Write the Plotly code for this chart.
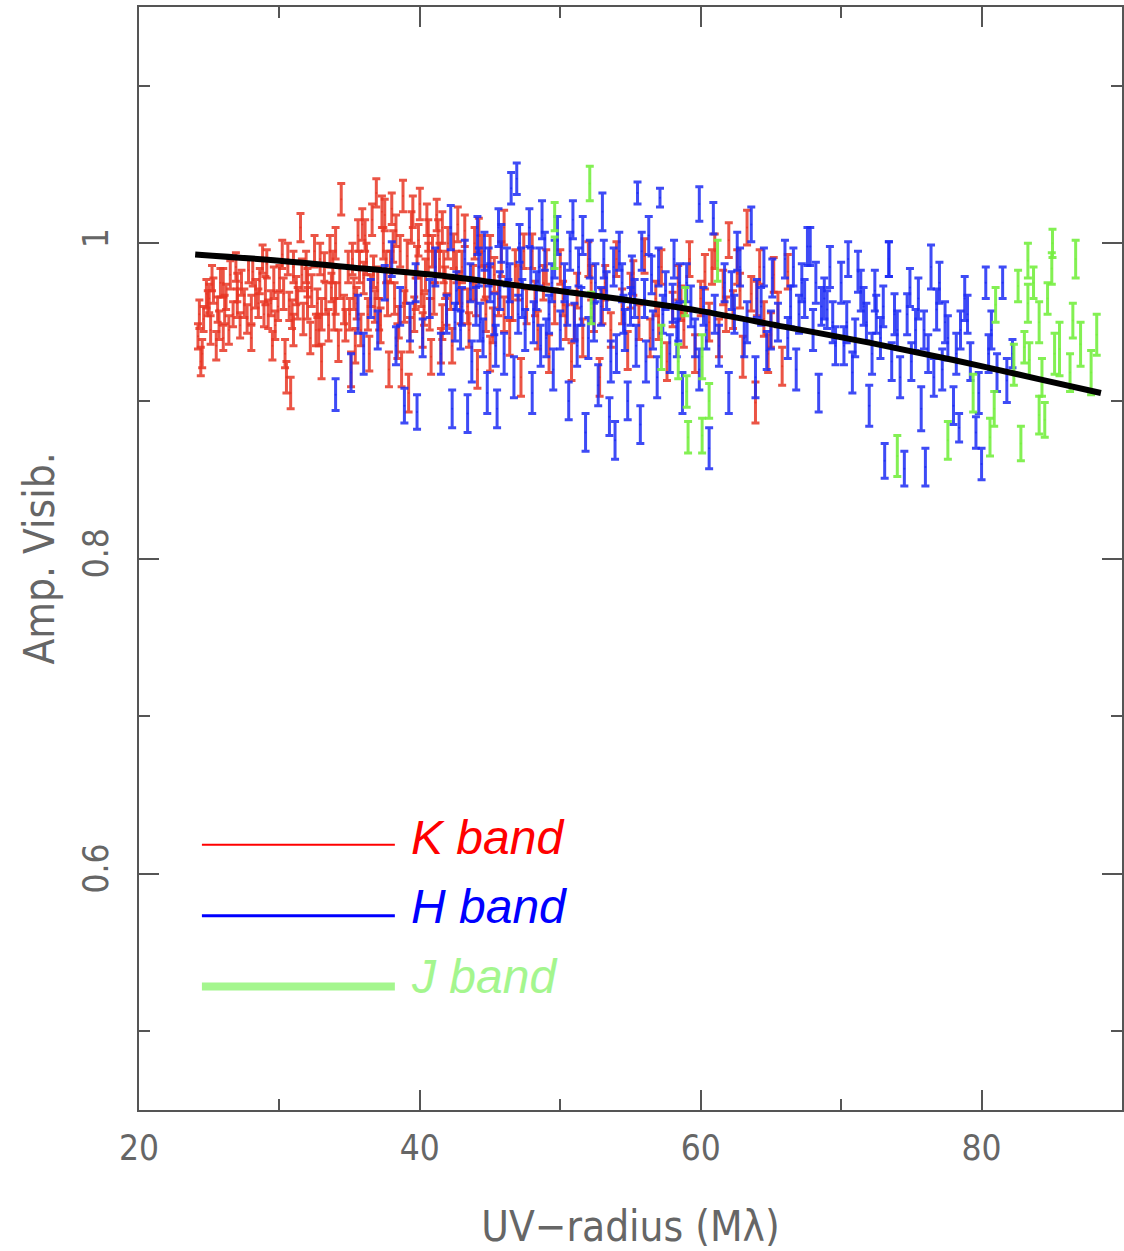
import plotly.graph_objects as go

# ---------------- data ----------------
# K band (red)
k_x = [24.2, 24.5, 24.6, 24.9, 25.1, 25.3, 25.6, 25.8, 26.0, 26.2,
       26.5, 26.7, 27.0, 27.2, 27.5, 27.8, 28.0, 28.3, 28.6, 28.9,
       29.1, 29.4, 29.7, 30.0, 30.2, 30.4, 30.5, 30.7, 31.0, 31.2,
       31.5, 31.7, 32.0, 32.2, 32.5, 32.7, 33.0, 33.2, 33.5, 33.7,
       34.0, 34.2, 34.4, 34.6, 34.9, 35.1, 35.3, 35.6, 35.8, 36.0,
       36.2, 36.4, 36.6, 36.8, 37.0, 37.2, 37.4, 37.6, 37.8, 38.0,
       38.2, 38.4, 38.6, 38.8, 39.0, 39.2, 39.4, 39.6, 39.8, 40.0,
       40.2, 40.4, 40.6, 40.8, 41.0, 41.2, 41.4, 41.6, 41.8, 42.0,
       42.3, 42.6, 42.9, 43.2, 43.5, 43.8, 44.1, 44.4, 44.7, 45.0,
       45.3, 45.6, 46.0, 46.4, 46.8, 47.2, 47.6, 48.0, 48.4, 48.8,
       49.2, 49.6, 50.0, 50.4, 50.8, 51.2, 51.6, 52.0, 52.4, 52.8,
       53.2, 53.6, 54.0, 54.4, 54.8, 55.2, 55.6, 56.0, 56.4, 56.8,
       57.2, 57.6, 58.0, 58.4, 58.8, 59.2, 59.6, 60.0, 60.3, 60.6,
       61.0, 61.3, 61.6, 62.0, 62.3, 62.6, 63.0, 63.3, 63.6, 63.9,
       64.2, 64.5, 64.8, 65.2, 65.5, 65.8, 66.2, 36.5, 37.1, 37.9,
       38.5, 39.1, 39.7, 40.3, 40.9, 41.5, 42.2, 35.0, 34.0, 33.0,
       32.0, 31.0, 29.0, 28.0, 27.0, 26.0, 25.0, 43.0, 44.0, 45.0,
       46.0, 47.0, 29.5, 30.8, 32.8, 35.4, 36.9, 38.7, 40.5, 41.7,
       24.3, 24.8, 25.2, 25.7, 26.1, 26.4, 26.9, 27.3, 27.7, 28.1,
       28.5, 28.8, 29.2, 29.6, 29.9, 30.3, 30.6, 30.9, 31.3, 31.6,
       31.9, 32.3, 32.6, 32.9, 33.3, 33.6, 33.9, 34.3, 34.7, 35.2,
       35.5, 35.9, 36.3, 36.7, 37.3, 37.7, 38.1, 38.9, 39.3, 39.9,
       40.1, 40.7, 41.1, 41.3, 41.9, 42.4, 42.8, 43.4, 43.9, 44.6,
       45.2, 45.8, 46.6, 47.4, 48.2, 49.0, 50.2, 51.0, 52.2, 53.0,
       55.0, 57.0, 58.6, 60.8, 61.8, 62.8, 64.0, 65.0, 24.4, 25.5,
       36.1, 37.5, 38.3, 39.5, 40.6, 41.6, 33.8, 35.7, 42.7, 44.2]
k_y = [0.941, 0.930, 0.952, 0.962, 0.945, 0.970, 0.958, 0.975, 0.940, 0.966,
       0.980, 0.955, 0.972, 0.948, 0.962, 0.983, 0.940, 0.968, 0.976, 0.955,
       0.987, 0.962, 0.948, 0.978, 0.993, 0.930, 0.915, 0.960, 0.985, 0.970,
       1.010, 0.952, 0.975, 0.940, 0.995, 0.962, 0.925, 0.985, 0.948, 0.972,
       1.000, 0.935, 1.028, 0.958, 0.985, 0.920, 0.968, 1.005, 0.945, 0.978,
       0.990, 0.930, 1.015, 0.960, 0.975, 0.948, 1.000, 0.985, 0.920, 1.022,
       0.965, 0.938, 0.995, 1.030, 0.972, 0.905, 1.010, 0.955, 0.988, 1.025,
       0.945, 0.980, 1.005, 0.928, 0.965, 1.018, 0.990, 0.950, 0.975, 1.000,
       0.935, 0.985, 0.960, 1.008, 0.945, 0.975, 0.920, 0.995, 0.955, 0.930,
       0.980, 0.965, 1.010, 0.940, 0.985, 0.915, 0.960, 0.995, 0.945, 0.975,
       0.930, 0.960, 0.985, 0.950, 0.925, 0.970, 0.940, 0.990, 0.955, 0.915,
       0.975, 0.945, 0.990, 0.960, 0.932, 0.978, 0.950, 0.992, 0.940, 0.965,
       0.985, 0.925, 0.958, 0.975, 0.945, 0.990, 0.930, 0.965, 0.982, 0.950,
       0.995, 0.940, 0.972, 1.002, 0.958, 0.985, 0.928, 1.010, 0.968, 0.899,
       0.985, 0.952, 0.930, 0.980, 0.958, 0.922, 0.982, 0.970, 0.955, 0.985,
       0.950, 0.992, 0.968, 0.958, 0.995, 0.935, 0.968, 0.955, 0.965, 0.955,
       0.962, 0.945, 0.970, 0.958, 0.962, 0.975, 0.965, 0.985, 0.965, 0.995,
       0.955, 0.975, 0.935, 0.905, 0.945, 0.935, 1.032, 0.920, 1.015, 0.985,
       0.955, 0.968, 0.978, 0.948, 0.958, 0.945, 0.985, 0.975, 0.952, 0.982,
       0.962, 0.990, 0.955, 0.975, 0.960, 0.968, 0.990, 0.955, 0.962, 0.980,
       0.985, 0.970, 0.945, 0.990, 0.965, 0.995, 0.955, 0.975, 0.948, 0.990,
       0.962, 1.012, 0.955, 0.982, 1.020, 0.965, 0.998, 0.960, 0.942, 1.002,
       0.970, 0.955, 0.985, 1.005, 0.958, 0.995, 0.972, 0.960, 1.000, 0.975,
       0.948, 0.990, 0.962, 0.995, 0.965, 0.985, 0.965, 0.950, 0.975, 0.960,
       0.970, 0.950, 0.962, 0.985, 0.955, 0.970, 0.965, 0.945, 0.925, 0.935,
       1.005, 1.018, 1.008, 1.020, 0.990, 1.010, 0.985, 0.985, 1.012, 1.005]
k_err = [0.008, 0.009, 0.008, 0.008, 0.009, 0.008, 0.008, 0.009, 0.008, 0.008,
         0.009, 0.008, 0.009, 0.008, 0.009, 0.008, 0.008, 0.009, 0.008, 0.008,
         0.009, 0.008, 0.009, 0.008, 0.009, 0.009, 0.010, 0.009, 0.010, 0.009,
         0.009, 0.010, 0.009, 0.010, 0.010, 0.009, 0.011, 0.009, 0.010, 0.009,
         0.010, 0.010, 0.010, 0.009, 0.010, 0.011, 0.010, 0.010, 0.010, 0.010,
         0.010, 0.011, 0.010, 0.010, 0.010, 0.011, 0.010, 0.010, 0.011, 0.010,
         0.010, 0.011, 0.010, 0.010, 0.010, 0.012, 0.010, 0.011, 0.010, 0.010,
         0.011, 0.010, 0.010, 0.011, 0.010, 0.010, 0.010, 0.011, 0.010, 0.010,
         0.011, 0.010, 0.011, 0.010, 0.011, 0.011, 0.012, 0.010, 0.011, 0.011,
         0.011, 0.011, 0.011, 0.011, 0.011, 0.012, 0.011, 0.011, 0.012, 0.011,
         0.012, 0.011, 0.011, 0.011, 0.012, 0.011, 0.012, 0.011, 0.011, 0.012,
         0.011, 0.011, 0.011, 0.011, 0.012, 0.011, 0.011, 0.011, 0.012, 0.011,
         0.011, 0.012, 0.011, 0.011, 0.011, 0.011, 0.012, 0.011, 0.011, 0.012,
         0.011, 0.012, 0.011, 0.011, 0.012, 0.011, 0.013, 0.011, 0.011, 0.013,
         0.011, 0.011, 0.012, 0.011, 0.011, 0.012, 0.011, 0.010, 0.010, 0.010,
         0.010, 0.010, 0.010, 0.010, 0.010, 0.011, 0.010, 0.010, 0.010, 0.010,
         0.010, 0.010, 0.009, 0.009, 0.009, 0.009, 0.009, 0.010, 0.011, 0.010,
         0.011, 0.011, 0.009, 0.010, 0.010, 0.011, 0.009, 0.011, 0.010, 0.010,
         0.009, 0.009, 0.008, 0.009, 0.009, 0.009, 0.009, 0.008, 0.009, 0.009,
         0.009, 0.009, 0.009, 0.010, 0.009, 0.010, 0.010, 0.009, 0.010, 0.010,
         0.010, 0.010, 0.010, 0.010, 0.010, 0.010, 0.010, 0.010, 0.010, 0.010,
         0.010, 0.010, 0.010, 0.010, 0.010, 0.011, 0.010, 0.010, 0.011, 0.010,
         0.010, 0.010, 0.010, 0.010, 0.010, 0.011, 0.010, 0.011, 0.010, 0.011,
         0.011, 0.011, 0.011, 0.011, 0.011, 0.011, 0.011, 0.011, 0.011, 0.011,
         0.011, 0.011, 0.011, 0.011, 0.011, 0.011, 0.011, 0.011, 0.009, 0.009,
         0.010, 0.010, 0.010, 0.010, 0.010, 0.010, 0.010, 0.010, 0.011, 0.011]

# H band (blue)
h_x = [34.0, 35.1, 35.6, 36.0, 36.5, 37.0, 37.5, 38.0, 38.3, 38.6,
       38.9, 39.3, 39.7, 39.8, 40.2, 40.7, 41.1, 41.5, 41.9, 42.2,
       42.3, 42.6, 42.9, 43.2, 43.4, 43.7, 44.0, 44.2, 44.5, 44.8,
       45.0, 45.3, 45.5, 45.8, 46.0, 46.3, 46.5, 46.7, 46.9, 47.2,
       47.5, 47.8, 48.0, 48.3, 48.6, 48.9, 49.2, 49.5, 49.8, 50.0,
       50.3, 50.6, 50.9, 51.2, 51.5, 51.8, 52.1, 52.4, 52.7, 53.0,
       53.3, 53.6, 53.9, 54.2, 54.5, 54.8, 55.1, 55.4, 55.5, 55.7,
       56.0, 56.3, 56.6, 56.9, 57.1, 57.5, 57.8, 58.1, 58.4, 58.7,
       59.0, 59.6, 59.9, 59.9, 60.2, 60.6, 60.9, 61.3, 61.7, 62.0,
       62.4, 62.8, 63.1, 63.6, 63.9, 64.3, 64.7, 65.1, 65.5, 66.0,
       66.4, 66.8, 67.2, 67.6, 68.0, 68.4, 68.8, 69.2, 69.6, 70.0,
       70.4, 70.8, 71.2, 71.6, 72.0, 72.4, 72.8, 73.1, 73.4, 73.8,
       74.2, 74.5, 74.9, 75.3, 75.7, 76.0, 76.4, 76.8, 77.2, 77.6,
       78.0, 78.4, 78.8, 79.2, 79.6, 80.0, 80.3, 80.7, 81.1, 81.5,
       81.8, 82.2, 43.0, 44.3, 45.7, 47.0, 48.5, 49.0, 51.0, 52.5,
       55.0, 58.0, 65.0, 67.0, 69.0, 71.0, 72.5, 74.0, 75.0, 77.0,
       78.5, 70.5, 67.8, 73.4, 76.2, 54.0, 56.5, 53.5, 64.0, 61.0,
       42.5, 43.6, 44.6, 45.4, 46.2, 47.3, 48.1, 49.4, 50.5, 51.3,
       52.0, 52.9, 53.8, 54.6, 55.3, 56.1, 57.3, 58.3, 59.3, 60.4,
       62.2, 63.3, 64.5, 66.2, 67.4, 68.2, 69.4, 70.2, 71.4, 72.2,
       73.0, 73.6, 74.7, 75.5, 76.6, 77.4, 78.2, 79.0, 79.8, 80.5,
       44.1, 44.9, 45.6, 46.4, 47.1, 47.9, 48.7, 49.6, 50.7, 51.6,
       53.1, 54.4, 55.8, 57.0, 58.5, 62.6, 66.6, 68.6, 71.8, 75.9]
h_y = [0.904, 0.918, 0.955, 0.930, 0.965, 0.945, 0.975, 0.990, 0.935, 0.960,
       0.897, 0.950, 0.975, 0.893, 0.940, 0.965, 0.985, 0.930, 0.955, 1.010,
       0.895, 0.970, 0.945, 0.990, 0.892, 0.925, 0.960, 0.985, 0.940, 0.905,
       0.975, 0.955, 0.895, 1.000, 0.930, 0.965, 1.035, 0.915, 1.041, 0.985,
       0.945, 1.010, 0.905, 0.970, 0.935, 0.995, 0.955, 0.920, 1.005, 0.945,
       0.975, 0.900, 1.015, 0.935, 0.960, 0.880, 0.990, 0.950, 0.910, 1.020,
       0.970, 0.925, 0.875, 0.995, 0.955, 0.900, 0.980, 0.935, 1.032, 0.885,
       0.965, 1.005, 0.945, 0.915, 1.029, 0.970, 0.930, 0.990, 0.950, 0.905,
       0.975, 0.940, 0.920, 1.025, 0.960, 0.870, 1.016, 0.935, 0.975, 0.905,
       0.955, 0.985, 0.940, 1.012, 0.915, 0.960, 0.932, 0.978, 0.950, 0.990,
       0.960, 0.920, 0.975, 0.998, 0.945, 0.905, 0.965, 0.985, 0.935, 0.975,
       0.950, 0.918, 0.982, 0.960, 0.897, 0.970, 0.940, 0.862, 0.990, 0.955,
       0.915, 0.857, 0.972, 0.945, 0.895, 0.858, 0.985, 0.958, 0.920, 0.940,
       0.897, 0.883, 0.965, 0.925, 0.880, 0.860, 0.975, 0.945, 0.918, 0.975,
       0.913, 0.930, 0.960, 0.950, 0.970, 0.955, 0.985, 0.940, 0.950, 0.975,
       0.960, 0.962, 0.945, 0.955, 0.958, 0.940, 0.955, 0.945, 0.925, 0.975,
       0.945, 0.990, 0.998, 0.990, 0.930, 0.930, 0.980, 0.890, 0.965, 0.955,
       0.950, 0.975, 0.995, 0.935, 0.985, 0.965, 0.950, 0.975, 0.960, 0.985,
       0.940, 0.960, 0.985, 0.945, 0.965, 0.925, 0.955, 0.940, 0.960, 0.945,
       0.970, 0.950, 0.985, 0.940, 0.965, 0.975, 0.950, 0.935, 0.970, 0.930,
       0.960, 0.925, 0.955, 0.965, 0.915, 0.950, 0.930, 0.955, 0.905, 0.930,
       1.005, 0.985, 1.010, 0.975, 1.000, 0.985, 1.015, 0.990, 0.995, 1.005,
       0.990, 0.975, 0.995, 0.985, 0.975, 0.995, 0.985, 0.960, 0.950, 0.945]
h_err = [0.010, 0.012, 0.012, 0.013, 0.012, 0.012, 0.011, 0.011, 0.012, 0.012,
         0.011, 0.012, 0.012, 0.011, 0.012, 0.012, 0.012, 0.013, 0.012, 0.014,
         0.012, 0.012, 0.012, 0.012, 0.012, 0.013, 0.012, 0.012, 0.012, 0.013,
         0.012, 0.013, 0.012, 0.012, 0.013, 0.012, 0.010, 0.013, 0.010, 0.012,
         0.013, 0.012, 0.013, 0.012, 0.013, 0.012, 0.012, 0.013, 0.012, 0.012,
         0.012, 0.012, 0.012, 0.013, 0.012, 0.012, 0.012, 0.012, 0.013, 0.012,
         0.012, 0.013, 0.012, 0.012, 0.012, 0.012, 0.012, 0.013, 0.007, 0.012,
         0.012, 0.012, 0.012, 0.013, 0.006, 0.012, 0.012, 0.012, 0.012, 0.013,
         0.012, 0.012, 0.013, 0.011, 0.012, 0.013, 0.010, 0.013, 0.012, 0.013,
         0.012, 0.012, 0.012, 0.011, 0.013, 0.012, 0.012, 0.012, 0.012, 0.012,
         0.013, 0.013, 0.012, 0.012, 0.013, 0.012, 0.013, 0.013, 0.012, 0.013,
         0.013, 0.013, 0.013, 0.012, 0.013, 0.013, 0.013, 0.011, 0.011, 0.013,
         0.013, 0.011, 0.012, 0.013, 0.014, 0.012, 0.014, 0.013, 0.013, 0.014,
         0.012, 0.009, 0.014, 0.012, 0.010, 0.010, 0.010, 0.012, 0.012, 0.010,
         0.014, 0.009, 0.012, 0.012, 0.012, 0.012, 0.012, 0.012, 0.012, 0.012,
         0.012, 0.012, 0.012, 0.012, 0.012, 0.012, 0.012, 0.012, 0.012, 0.013,
         0.012, 0.011, 0.012, 0.011, 0.012, 0.012, 0.012, 0.012, 0.012, 0.012,
         0.012, 0.012, 0.012, 0.013, 0.012, 0.012, 0.013, 0.012, 0.012, 0.012,
         0.013, 0.012, 0.012, 0.013, 0.012, 0.013, 0.012, 0.012, 0.013, 0.012,
         0.012, 0.013, 0.012, 0.013, 0.012, 0.013, 0.013, 0.012, 0.013, 0.013,
         0.013, 0.012, 0.013, 0.013, 0.012, 0.013, 0.013, 0.012, 0.013, 0.012,
         0.012, 0.012, 0.012, 0.012, 0.012, 0.012, 0.012, 0.012, 0.012, 0.012,
         0.012, 0.012, 0.012, 0.012, 0.012, 0.012, 0.012, 0.012, 0.012, 0.012]

# J band (green)
j_x = [49.6, 49.6, 52.1, 52.2, 57.2, 58.4, 58.9, 59.0, 59.1, 60.1, 60.1, 60.6, 61.2,
       74.0, 77.6, 79.4, 80.6, 80.9, 81.0, 82.3, 82.6, 82.8, 83.05,
       83.3, 83.3, 83.4, 83.7, 84.1, 84.1, 84.3, 84.5, 84.7, 85.0,
       85.05, 85.2, 85.55, 86.3, 86.5, 86.7, 87.05, 87.8, 88.2]
j_y = [1.017, 0.994, 1.038, 0.959, 0.934, 0.925, 0.963, 0.906, 0.877, 0.928, 0.878, 0.900, 0.989,
       0.865, 0.875, 0.905, 0.877, 0.895, 0.961, 0.923, 0.973, 0.873, 0.934,
       0.989, 0.962, 0.926, 0.975, 0.950, 0.891, 0.915, 0.888, 0.965, 0.984,
       1.000, 0.930, 0.933, 0.918, 0.951, 0.990, 0.936, 0.918, 0.942]
j_err = [0.009, 0.010, 0.011, 0.010, 0.014, 0.011, 0.009, 0.010, 0.010, 0.014, 0.011, 0.011, 0.013,
         0.013, 0.012, 0.012, 0.012, 0.011, 0.011, 0.013, 0.010, 0.011, 0.010,
         0.011, 0.012, 0.011, 0.010, 0.013, 0.012, 0.012, 0.011, 0.010, 0.010,
         0.009, 0.013, 0.017, 0.012, 0.011, 0.012, 0.014, 0.014, 0.013]

# model curve
fit_x = [24, 30, 36, 42, 48, 54, 60, 66, 72, 78, 84, 88.5]
fit_y = [0.993, 0.989, 0.984, 0.979, 0.972, 0.965, 0.957, 0.947, 0.937, 0.926, 0.914, 0.905]

bands = ["K band", "H band", "J band"]
band_colors = ["#ff0000", "#0000ff", "#a4f68e"]

# ---------------- figure ----------------
TICK_FONT = "DejaVu Sans Condensed, Liberation Sans Narrow, Liberation Sans, sans-serif"
AX = "#555555"
TXT = "#666666"

fig = go.Figure()


def band_trace(x, y, e, color, name):
    return go.Scatter(
        x=x, y=y, mode="markers", name=name, showlegend=False,
        marker=dict(size=2, color=color),
        error_y=dict(type="data", array=e, visible=True, color=color,
                     thickness=3, width=4),
    )


fig.add_trace(band_trace(k_x, k_y, k_err, "rgba(232,54,36,0.85)", bands[0]))
fig.add_trace(band_trace(h_x, h_y, h_err, "rgba(28,44,245,0.85)", bands[1]))
fig.add_trace(band_trace(j_x, j_y, j_err, "rgba(118,238,64,0.9)", bands[2]))

fig.add_trace(go.Scatter(x=fit_x, y=fit_y, mode="lines", showlegend=False,
                         line=dict(color="black", width=6, shape="spline")))

# in-plot legend (line samples + italic labels)
leg_x0, leg_x1, leg_tx = 24.48, 38.22, 39.2
leg_line_y = [0.6184, 0.5733, 0.5283]
leg_text_y = [0.6229, 0.5790, 0.5346]
leg_widths = [2, 3, 8]
for i in range(3):
    fig.add_shape(type="line", xref="x", yref="y", x0=leg_x0, x1=leg_x1,
                  y0=leg_line_y[i], y1=leg_line_y[i],
                  line=dict(color=band_colors[i], width=leg_widths[i]))
    fig.add_annotation(x=leg_tx, y=leg_text_y[i], xref="x", yref="y",
                       text="<i>" + bands[i] + "</i>", showarrow=False,
                       xanchor="left", yanchor="middle",
                       font=dict(family="Liberation Sans, Arial, sans-serif",
                                 size=48, color=band_colors[i]))

axis_common = dict(
    showline=True, linecolor=AX, linewidth=2, mirror="allticks",
    ticks="inside", ticklen=20, tickwidth=2, tickcolor=AX,
    showgrid=False, zeroline=False,
    tickfont=dict(family=TICK_FONT, size=35, color=TXT),
)

fig.update_layout(
    width=1124, height=1251,
    margin=dict(l=139, r=2, t=7, b=141, autoexpand=False),
    plot_bgcolor="white", paper_bgcolor="white",
    xaxis=dict(range=[20, 90], tick0=20, dtick=20,
               minor=dict(dtick=10, ticklen=11, tickwidth=2, tickcolor=AX, ticks="inside"),
               ticklabelstandoff=6,
               title=dict(text="UV\u2212radius (M\u03bb)", standoff=54,
                          font=dict(family=TICK_FONT, size=42, color=TXT)),
               **axis_common),
    yaxis=dict(range=[0.45, 1.15], tick0=0.6, dtick=0.2, tickangle=-90,
               minor=dict(dtick=0.1, ticklen=11, tickwidth=2, tickcolor=AX, ticks="inside"),
               ticklabelstandoff=15,
               title=dict(text="Amp. Visib.", standoff=8,
                          font=dict(family=TICK_FONT, size=42, color=TXT)),
               **axis_common),
)

# place the figure at the page origin (no default body margin / scrollbars), no modebar
fig.write_html("out.html",
               config={"displayModeBar": False},
               post_script="document.body.style.margin='0px';"
                           "document.body.style.overflow='hidden';")
